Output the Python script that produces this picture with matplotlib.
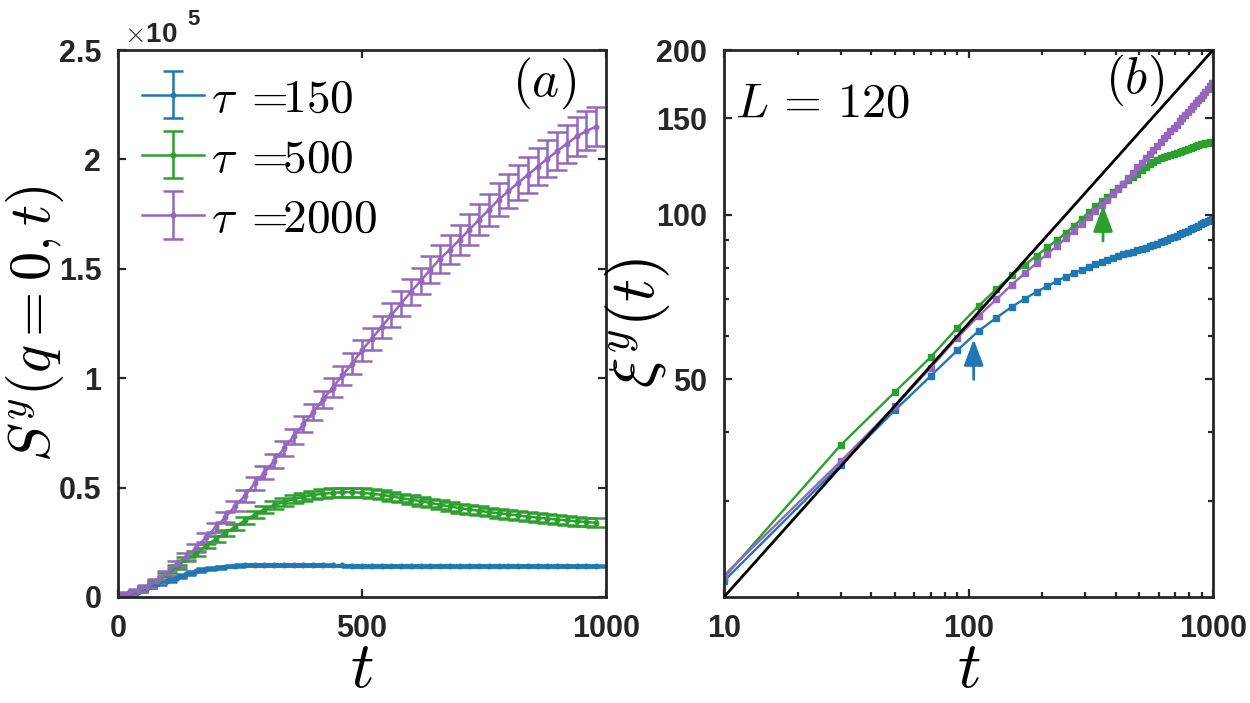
import numpy as np
import matplotlib
matplotlib.use("Agg")
import matplotlib.pyplot as plt
from matplotlib.ticker import FixedLocator, FuncFormatter, NullFormatter

plt.rcParams['font.family'] = ['Liberation Sans', 'DejaVu Sans']
plt.rcParams['font.weight'] = 'bold'
plt.rcParams['mathtext.fontset'] = 'cm'

# ---------------- data ----------------
# panel (a): t = 0, 20, ..., 980 ; S^y in units of 1e5
t_a = list(range(0, 1000, 20))
S_150 = [0.000, 0.011, 0.024, 0.042, 0.060, 0.073, 0.088, 0.103, 0.117, 0.127,
         0.134, 0.139, 0.143, 0.145, 0.146, 0.147, 0.147, 0.147, 0.146, 0.146,
         0.145, 0.145, 0.144, 0.144, 0.143, 0.143, 0.143, 0.142, 0.142, 0.142,
         0.142, 0.142, 0.142, 0.142, 0.141, 0.141, 0.141, 0.141, 0.141, 0.141,
         0.141, 0.141, 0.141, 0.140, 0.140, 0.140, 0.140, 0.140, 0.140, 0.140]
S_150_err = [0.000, 0.001, 0.002, 0.002, 0.003, 0.003, 0.003, 0.003, 0.003, 0.004,
             0.004, 0.004, 0.004, 0.004, 0.004, 0.004, 0.004, 0.004, 0.004, 0.004,
             0.004, 0.004, 0.004, 0.004, 0.004, 0.004, 0.004, 0.004, 0.004, 0.004,
             0.004, 0.004, 0.004, 0.004, 0.004, 0.004, 0.004, 0.004, 0.004, 0.004,
             0.004, 0.004, 0.004, 0.004, 0.004, 0.004, 0.004, 0.004, 0.004, 0.004]
S_500 = [0.000, 0.013, 0.027, 0.046, 0.072, 0.102, 0.138, 0.172, 0.199, 0.233,
         0.265, 0.292, 0.321, 0.350, 0.376, 0.399, 0.419, 0.435, 0.447, 0.458,
         0.466, 0.472, 0.476, 0.479, 0.479, 0.476, 0.472, 0.467, 0.460, 0.452,
         0.445, 0.438, 0.430, 0.422, 0.414, 0.406, 0.400, 0.394, 0.388, 0.383,
         0.378, 0.373, 0.367, 0.363, 0.358, 0.354, 0.350, 0.346, 0.343, 0.339]
S_500_err = [0.000, 0.002, 0.003, 0.004, 0.005, 0.006, 0.008, 0.009, 0.010, 0.011,
             0.012, 0.013, 0.014, 0.015, 0.016, 0.017, 0.018, 0.018, 0.019, 0.019,
             0.020, 0.020, 0.020, 0.020, 0.020, 0.020, 0.020, 0.020, 0.020, 0.020,
             0.020, 0.020, 0.020, 0.020, 0.020, 0.020, 0.020, 0.020, 0.020, 0.020,
             0.020, 0.020, 0.020, 0.020, 0.020, 0.020, 0.020, 0.020, 0.020, 0.020]
S_2000 = [0.000, 0.017, 0.029, 0.047, 0.073, 0.108, 0.151, 0.184, 0.225, 0.272,
          0.318, 0.364, 0.416, 0.461, 0.519, 0.568, 0.622, 0.679, 0.735, 0.790,
          0.846, 0.903, 0.957, 1.014, 1.067, 1.128, 1.181, 1.234, 1.288, 1.341,
          1.394, 1.444, 1.496, 1.546, 1.588, 1.633, 1.679, 1.725, 1.770, 1.816,
          1.855, 1.893, 1.930, 1.967, 2.003, 2.038, 2.072, 2.105, 2.130, 2.150]
S_2000_err = [0.000, 0.004, 0.006, 0.008, 0.010, 0.012, 0.014, 0.016, 0.018, 0.020,
              0.022, 0.023, 0.025, 0.026, 0.028, 0.030, 0.031, 0.033, 0.034, 0.036,
              0.038, 0.040, 0.042, 0.044, 0.046, 0.048, 0.050, 0.052, 0.054, 0.056,
              0.058, 0.060, 0.062, 0.064, 0.066, 0.068, 0.070, 0.072, 0.074, 0.076,
              0.078, 0.080, 0.082, 0.083, 0.084, 0.086, 0.087, 0.088, 0.089, 0.090]

# panel (b): t = 10, 30, ..., 990
t_b = list(range(10, 1000, 20))
xi_150 = [21.4, 34.9, 43.9, 50.7, 56.5, 61.3, 64.8, 67.8, 70.2, 72.3,
          74.0, 75.6, 77.0, 78.2, 79.3, 80.3, 81.2, 82.0, 82.7, 83.4,
          84.0, 84.6, 85.1, 85.6, 86.1, 86.6, 87.0, 87.5, 88.0, 88.5,
          89.0, 89.5, 90.0, 90.5, 91.0, 91.5, 92.0, 92.5, 93.0, 93.5,
          94.0, 94.5, 95.0, 95.5, 96.0, 96.5, 97.0, 97.4, 97.8, 98.2]
xi_500 = [21.7, 37.9, 47.4, 54.9, 62.1, 68.1, 73.1, 77.5, 81.0, 84.1,
          87.2, 89.8, 92.6, 95.4, 98.2, 101.0, 103.5, 105.7, 107.6, 109.8,
          112.0, 114.0, 115.8, 117.4, 118.9, 120.6, 122.2, 123.6, 124.8, 125.8,
          126.7, 127.5, 128.2, 128.8, 129.3, 129.8, 130.3, 130.8, 131.3, 131.8,
          132.3, 132.8, 133.5, 134.0, 134.4, 134.8, 135.1, 135.4, 135.6, 135.8]
xi_2000 = [21.9, 35.4, 44.6, 52.5, 59.6, 65.3, 70.0, 74.4, 78.2, 81.6,
           84.8, 87.6, 90.6, 93.4, 96.3, 99.0, 101.5, 104.0, 106.3, 108.9,
           111.5, 114.0, 116.6, 119.4, 122.0, 124.5, 126.8, 129.0, 131.3, 133.5,
           135.6, 137.8, 139.9, 142.0, 144.0, 146.0, 148.1, 150.1, 152.0, 154.0,
           156.0, 157.9, 159.8, 161.8, 163.6, 165.5, 167.9, 170.0, 172.0, 173.8]
ref_t = [10, 1000]
ref_xi = [20, 200]
arrow_t = [105, 355]
arrow_from = [50.0, 89.5]
arrow_to = [59.2, 104.0]

labels = [r"$\tau\;=\!\!150$", r"$\tau\;=\!\!500$", r"$\tau\;=\!\!2000$"]
colors = ['#1f77b4', '#2ca02c', '#9467bd']
tick_color = '#262626'

fig = plt.figure(figsize=(12.5, 7.03), dpi=100)
W, H = 1250, 703
axA = fig.add_axes([118 / W, 1 - 597 / H, 488 / W, 547 / H])
axB = fig.add_axes([724 / W, 1 - 597 / H, 489 / W, 547 / H])

# ---------------- panel (a) ----------------
for S, E, c, lab in zip([S_150, S_500, S_2000], [S_150_err, S_500_err, S_2000_err], colors, labels):
    axA.errorbar(t_a, S, yerr=E, color=c, lw=1.8, marker='o', ms=3.3,
                 elinewidth=1.8, capsize=7.5, capthick=1.8, label=lab)
axA.set_xlim(0, 1000)
axA.set_ylim(0, 2.5)
axA.xaxis.set_major_locator(FixedLocator([0, 500, 1000]))
axA.yaxis.set_major_locator(FixedLocator([0, 0.5, 1, 1.5, 2, 2.5]))
axA.yaxis.set_major_formatter(FuncFormatter(lambda v, p: f"{v:g}"))
leg = axA.legend(loc='upper left', bbox_to_anchor=(0.05, 0.95), frameon=False,
                 fontsize=34, handlelength=1.3, handletextpad=0.15,
                 labelspacing=0.34, borderaxespad=0.0, borderpad=0.0)
axA.text(0.873, 0.94, r"$(a)$", transform=axA.transAxes, fontsize=37,
         ha='center', va='center')
axA.text(0.012, 1.0146, r"$\times$10", transform=axA.transAxes, fontsize=20,
         ha='left', va='baseline', fontweight='bold', color=tick_color)
axA.text(0.143, 1.0457, "5", transform=axA.transAxes, fontsize=16,
         ha='left', va='baseline', fontweight='bold', color=tick_color)
axA.set_xlabel(r"$t$", fontsize=47, labelpad=-3)
axA.set_ylabel(r"$S^y(q=0,t)$", fontsize=42)
axA.yaxis.set_label_coords(-0.107, 0.5)

# ---------------- panel (b) ----------------
for xi, c in zip([xi_150, xi_500, xi_2000], colors):
    axB.plot(t_b, xi, color=c, lw=1.7, marker='s', ms=3.8)
axB.plot(ref_t, ref_xi, color='black', lw=2.0, zorder=5)
for tt, y0, y1, c in zip(arrow_t, arrow_from, arrow_to, [colors[0], colors[1]]):
    axB.annotate('', xy=(tt, y1), xytext=(tt, y0),
                 arrowprops=dict(arrowstyle='-|>,head_length=0.8,head_width=0.3',
                                 color=c, lw=2.0, shrinkA=0, shrinkB=0,
                                 mutation_scale=20))
axB.set_xscale('log')
axB.set_yscale('log')
axB.set_xlim(10, 1000)
axB.set_ylim(20, 200)
axB.xaxis.set_major_locator(FixedLocator([10, 100, 1000]))
axB.xaxis.set_minor_locator(FixedLocator([20, 30, 40, 50, 60, 70, 80, 90,
                                          200, 300, 400, 500, 600, 700, 800, 900]))
axB.yaxis.set_major_locator(FixedLocator([50, 100, 150, 200]))
axB.yaxis.set_minor_locator(FixedLocator([30, 40, 60, 70, 80, 90]))
axB.xaxis.set_major_formatter(FuncFormatter(lambda v, p: f"{v:g}"))
axB.yaxis.set_major_formatter(FuncFormatter(lambda v, p: f"{v:g}"))
axB.xaxis.set_minor_formatter(NullFormatter())
axB.yaxis.set_minor_formatter(NullFormatter())
axB.text(0.84, 0.945, r"$(b)$", transform=axB.transAxes, fontsize=37,
         ha='center', va='center')
axB.text(0.022, 0.9, r"$L\,=\,120$", transform=axB.transAxes, fontsize=35,
         ha='left', va='center')
axB.set_xlabel(r"$t$", fontsize=47, labelpad=-3)
axB.set_ylabel(r"$\xi^y(t)$", fontsize=46)
axB.yaxis.set_label_coords(-0.106, 0.5)

for ax in (axA, axB):
    for sp in ax.spines.values():
        sp.set_linewidth(2.0)
        sp.set_color(tick_color)
    ax.tick_params(which='both', direction='in', top=True, right=True,
                   colors=tick_color, labelsize=22, width=1.6)
    ax.tick_params(which='major', length=6, pad=12)
    ax.tick_params(which='minor', length=3.5)
    for lbl in ax.get_xticklabels() + ax.get_yticklabels():
        lbl.set_fontweight('bold')

fig.savefig('out.png', dpi=100)
